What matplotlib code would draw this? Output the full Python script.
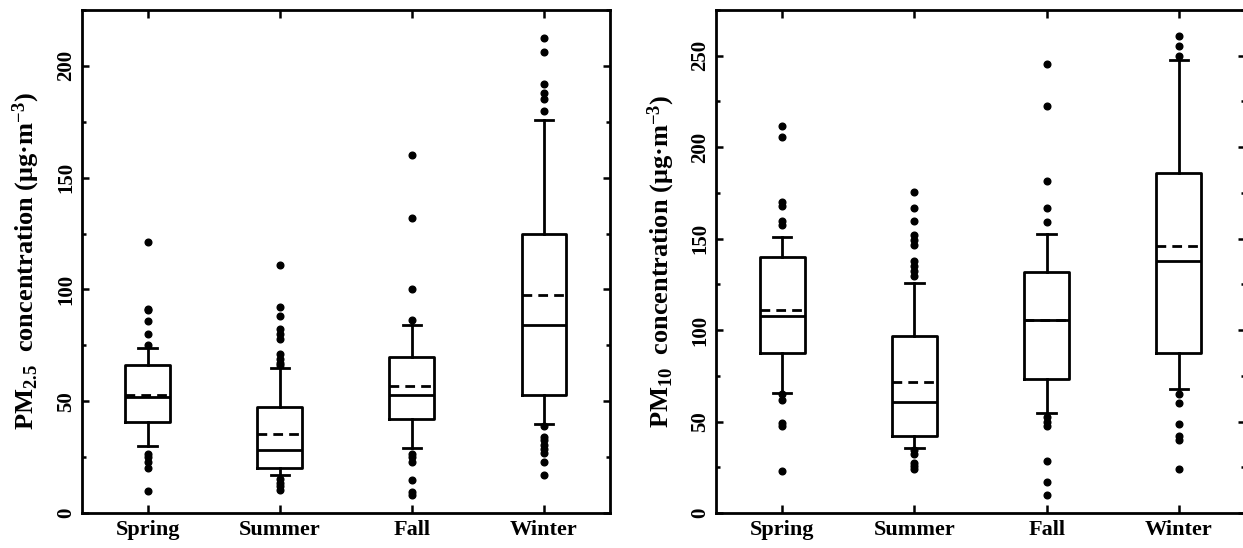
import matplotlib
matplotlib.use("Agg")
import matplotlib.pyplot as plt
from matplotlib.ticker import MultipleLocator

plt.rcParams['font.family'] = ['Liberation Serif', 'DejaVu Serif']
plt.rcParams['font.weight'] = 'bold'
plt.rcParams['mathtext.fontset'] = 'custom'
plt.rcParams['mathtext.rm'] = 'Liberation Serif:bold'
plt.rcParams['mathtext.it'] = 'Liberation Serif:bold'
plt.rcParams['mathtext.bf'] = 'Liberation Serif:bold'
plt.rcParams['mathtext.default'] = 'rm'

seasons = ["Spring", "Summer", "Fall", "Winter"]

# PM2.5 统计量
pm25_q1 = [40.5, 20.0, 42.0, 53.0]
pm25_med = [52.0, 28.0, 53.0, 84.0]
pm25_q3 = [66.4, 47.2, 70.0, 124.8]
pm25_lo = [29.8, 16.9, 28.9, 39.8]
pm25_hi = [74.0, 65.0, 84.0, 176.0]
pm25_mean = [53.0, 35.3, 56.7, 97.3]
pm25_fliers = [
    [121, 91.4, 90.6, 86, 80, 75, 26.5, 25, 23, 20.3, 9.8],
    [111, 92, 88, 82.5, 80, 77.8, 71, 69, 67, 66, 15, 13.5, 12, 10.5],
    [160, 132, 100.2, 86.2, 26.3, 25, 23, 14.8, 9.4, 8],
    [212.5, 206, 192, 188, 185, 180, 38.9, 33.9, 32.5, 30.5, 28.6, 26.9, 23, 16.9],
]

# PM10 统计量
pm10_q1 = [87.6, 41.9, 73.1, 87.6]
pm10_med = [107.8, 60.6, 105.7, 137.7]
pm10_q3 = [140.2, 96.6, 132.0, 185.7]
pm10_lo = [65.7, 35.8, 54.7, 68.0]
pm10_hi = [150.7, 125.5, 152.8, 247.4]
pm10_mean = [111.2, 71.4, 105.5, 145.9]
pm10_fliers = [
    [211.8, 205.7, 169.9, 167.6, 159.6, 157.7, 64.8, 61.9, 49.1, 47.6, 22.9],
    [175.6, 166.5, 159.6, 152, 149, 146.7, 138, 135, 132.4, 129.5, 34.3, 32.4, 27.6, 25.7, 23.8],
    [245.5, 222.7, 181.7, 166.7, 158.9, 52.4, 49.9, 47.6, 28.6, 16.8, 9.9],
    [261, 255.2, 249.9, 64.8, 60, 48.6, 42.3, 40, 23.8],
]


def make_stats(q1, med, q3, lo, hi, mean, fliers):
    stats = []
    for i in range(len(q1)):
        stats.append(dict(q1=q1[i], med=med[i], q3=q3[i], whislo=lo[i],
                          whishi=hi[i], mean=mean[i], fliers=fliers[i]))
    return stats


def draw_panel(ax, stats, ymax, ylabel):
    lw = 2.0
    line = dict(color='black', linewidth=lw)
    ax.bxp(stats, positions=[1, 2, 3, 4], widths=0.34, capwidths=0.14,
           showmeans=True, meanline=True,
           boxprops=line, whiskerprops=line, capprops=line, medianprops=line,
           meanprops=dict(color='black', linewidth=lw, linestyle=(0, (3.5, 2.2))),
           flierprops=dict(marker='o', markerfacecolor='black',
                           markeredgecolor='black', markersize=4.8))
    ax.set_xlim(0.5, 4.5)
    ax.set_ylim(0, ymax)
    ax.set_xticks([1, 2, 3, 4])
    ax.set_xticklabels(seasons)
    ax.yaxis.set_major_locator(MultipleLocator(50))
    ax.yaxis.set_minor_locator(MultipleLocator(25))
    ax.tick_params(axis='both', which='both', direction='in',
                   top=True, right=True, width=1.8, colors='black')
    ax.tick_params(axis='x', which='major', length=6, pad=5, labelsize=16)
    ax.tick_params(axis='y', which='major', length=5, pad=4,
                   labelsize=15, labelrotation=90)
    ax.tick_params(axis='y', which='minor', length=3)
    for lab in ax.get_yticklabels():
        lab.set_va('center')
    for sp in ax.spines.values():
        sp.set_linewidth(2.0)
    ax.set_ylabel(ylabel, fontsize=19, fontweight='bold', labelpad=10)


fig = plt.figure(figsize=(12.43, 5.48), dpi=100)
ax1 = fig.add_axes([81.7 / 1243, 35 / 548, 528.3 / 1243, 503 / 548])
ax2 = fig.add_axes([716 / 1243, 35 / 548, 529 / 1243, 503 / 548])

draw_panel(ax1, make_stats(pm25_q1, pm25_med, pm25_q3, pm25_lo, pm25_hi,
                           pm25_mean, pm25_fliers),
           225, r"PM$_{2.5}$  concentration (μg·m$^{-3}$)")
draw_panel(ax2, make_stats(pm10_q1, pm10_med, pm10_q3, pm10_lo, pm10_hi,
                           pm10_mean, pm10_fliers),
           275, r"PM$_{10}$  concentration (μg·m$^{-3}$)")

fig.savefig("out.png", dpi=100)
